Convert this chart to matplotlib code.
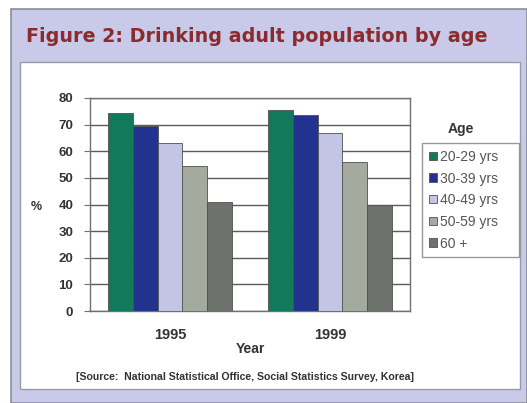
import matplotlib
matplotlib.use("Agg")
import matplotlib.pyplot as plt
import numpy as np
from matplotlib.patches import Rectangle

years = ["1995", "1999"]
age_groups = ["20-29 yrs", "30-39 yrs", "40-49 yrs", "50-59 yrs", "60 +"]
values_1995 = [74.3, 69.3, 63.0, 54.5, 40.8]
values_1999 = [75.6, 73.7, 67.0, 56.1, 39.7]
yticks = [0, 10, 20, 30, 40, 50, 60, 70, 80]

colors = ["#12795a", "#22338f", "#c2c5e6", "#a5aa9f", "#6e726c"]
lavender = "#c9c9e9"

W, H = 527, 403
fig = plt.figure(figsize=(W / 100, H / 100), dpi=100)
fig.patch.set_facecolor("white")


def fx(px):
    return px / W


def fy(py):
    return 1 - py / H


# lavender frame and white panel
fig.patches.append(Rectangle((fx(11), fy(403)), fx(516), fy(9) - fy(403),
                             transform=fig.transFigure, facecolor=lavender,
                             edgecolor="#8c8c9c", lw=1.2, zorder=0))
fig.patches.append(Rectangle((fx(20), fy(389)), fx(500), fy(62) - fy(389),
                             transform=fig.transFigure, facecolor="white",
                             edgecolor="#9a9aa8", lw=1.0, zorder=1))

fig.text(fx(26), fy(36), "Figure 2: Drinking adult population by age",
         color="#8a2b2e", fontsize=13.8, fontweight="heavy",
         family="DejaVu Sans", va="center", ha="left")

ax = fig.add_axes([fx(90), fy(311), fx(320), fy(98) - fy(311)])
ax.set_zorder(2)

data = np.array([values_1995, values_1999])
x = np.arange(len(years))
width = 0.156
for i, label in enumerate(age_groups):
    offs = (i - 2) * width
    ax.bar(x + offs, data[:, i], width, color=colors[i], edgecolor="#505050",
           linewidth=0.6, label=label, zorder=3)

ax.set_xlim(-0.5, 1.5)
ax.set_ylim(0, 80)
ax.set_yticks(yticks)
ax.set_xticks(x)
ax.set_xticklabels(years)
ax.yaxis.grid(True, color="#5a5a5a", linewidth=1.0, zorder=0)
ax.set_axisbelow(True)
for s in ax.spines.values():
    s.set_color("#707070")
    s.set_linewidth(1.0)
ax.tick_params(axis="y", length=4, color="#707070", pad=8, labelsize=9.5)
ax.tick_params(axis="x", length=0, pad=12, labelsize=10.5)
for lab in ax.get_xticklabels() + ax.get_yticklabels():
    lab.set_family("Liberation Sans")
    lab.set_fontweight("bold")
    lab.set_color("#333333")

ax.set_xlabel("Year", family="Liberation Sans", fontweight="bold",
              fontsize=10, color="#333333", labelpad=0)
fig.text(fx(36), fy(207), "%", family="Liberation Sans", fontweight="bold",
         fontsize=9, color="#333333", ha="center", va="center")

# legend box stretched to the reference width
leg = ax.legend(loc="upper left", mode="expand",
                bbox_to_anchor=(fx(422), fy(257), fx(97), fy(143) - fy(257)),
                bbox_transform=fig.transFigure, frameon=True, fancybox=False,
                prop={"family": "Liberation Sans", "size": 10},
                handlelength=0.55, handleheight=0.55, handletextpad=0.25,
                labelspacing=0.55, borderpad=0.5, borderaxespad=0)
leg.get_frame().set_edgecolor("#808080")
leg.get_frame().set_linewidth(1.0)
for t in leg.get_texts():
    t.set_color("#555555")

fig.text(fx(461), fy(129), "Age", family="Liberation Sans", fontweight="bold",
         fontsize=10, color="#333333", ha="center", va="center")

fig.text(fx(245), fy(377),
         "[Source:  National Statistical Office, Social Statistics Survey, Korea]",
         family="Liberation Sans", fontweight="bold", fontsize=7.6,
         color="#333333", ha="center", va="center")

fig.savefig("out.png", dpi=100)
